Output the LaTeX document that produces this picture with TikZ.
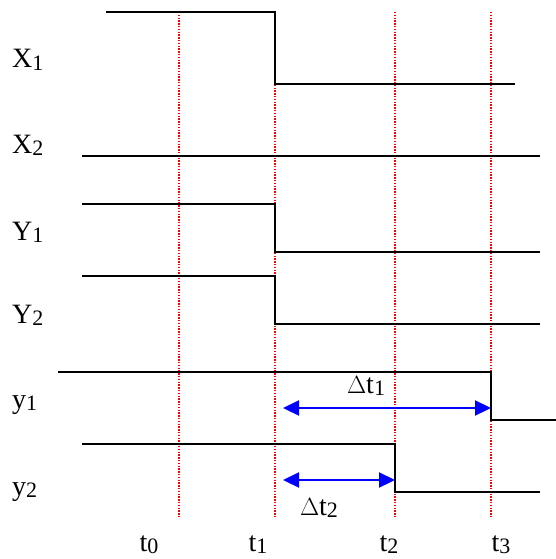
\documentclass[tikz,border=0pt]{standalone}
\usepackage{fontspec}
\setmainfont{Liberation Serif}
\usetikzlibrary{arrows.meta}

\newcommand{\lowsub}[1]{\raisebox{-2.5pt}{\fontsize{22}{22}\selectfont #1}}

\begin{document}
\begin{tikzpicture}[x=1pt, y=-1pt,
  sig/.style={line width=1.8pt},
  guide/.style={red, line width=1.4pt, dash pattern=on 1.4pt off 1.4pt},
  dt/.style={{Triangle[length=16pt, width=15pt]}-{Triangle[length=16pt, width=15pt]}, blue, line width=2.2pt},
  lbl/.style={anchor=base west, inner sep=0pt, font=\fontsize{28}{30}\selectfont}]

  \useasboundingbox (0,0) rectangle (556,559);

  % time marks
  \foreach \x/\n in {179/0, 275/1, 395/2, 491/3}{
    \coordinate (g\n) at (\x,12);
    \coordinate (h\n) at (\x,517);
    \draw[guide] (g\n) -- (h\n);
  }

  % signals
  \draw[sig] (106,12) -- (275,12) -- (275,84) -- (515,84);
  \draw[sig] (82,156) -- (540,156);
  \draw[sig] (82,204) -- (275,204) -- (275,252) -- (540,252);
  \draw[sig] (82,276) -- (275,276) -- (275,324) -- (540,324);
  \draw[sig] (58,372) -- (491,372) -- (491,420) -- (556,420);
  \draw[sig] (82,444) -- (395,444) -- (395,492) -- (540,492);

  % names
  \node[lbl] (X1) at (12,68)  {X\lowsub{1}};
  \node[lbl] (X2) at (12,153) {X\lowsub{2}};
  \node[lbl] (Y1) at (12,240) {Y\lowsub{1}};
  \node[lbl] (Y2) at (12,323) {Y\lowsub{2}};
  \node[lbl] (y1) at (12,408) {y\lowsub{1}};
  \node[lbl] (y2) at (12,495) {y\lowsub{2}};

  \node[lbl, anchor=base] (t0) at (149,551) {t\lowsub{0}};
  \node[lbl, anchor=base] (t1) at (258,551) {t\lowsub{1}};
  \node[lbl, anchor=base] (t2) at (389,551) {t\lowsub{2}};
  \node[lbl, anchor=base] (t3) at (501,551) {t\lowsub{3}};

  % delays
  \coordinate (d1a) at (283,408);
  \coordinate (d1b) at (491,408);
  \coordinate (d2a) at (283,480);
  \coordinate (d2b) at (395,480);
  \draw[dt] (d1a) -- (d1b);
  \draw[dt] (d2a) -- (d2b);
  \node[lbl, anchor=base] (dt1) at (366,393) {$\Delta$t\lowsub{1}};
  \node[lbl, anchor=base] (dt2) at (319,515) {$\Delta$t\lowsub{2}};
\end{tikzpicture}
\end{document}
